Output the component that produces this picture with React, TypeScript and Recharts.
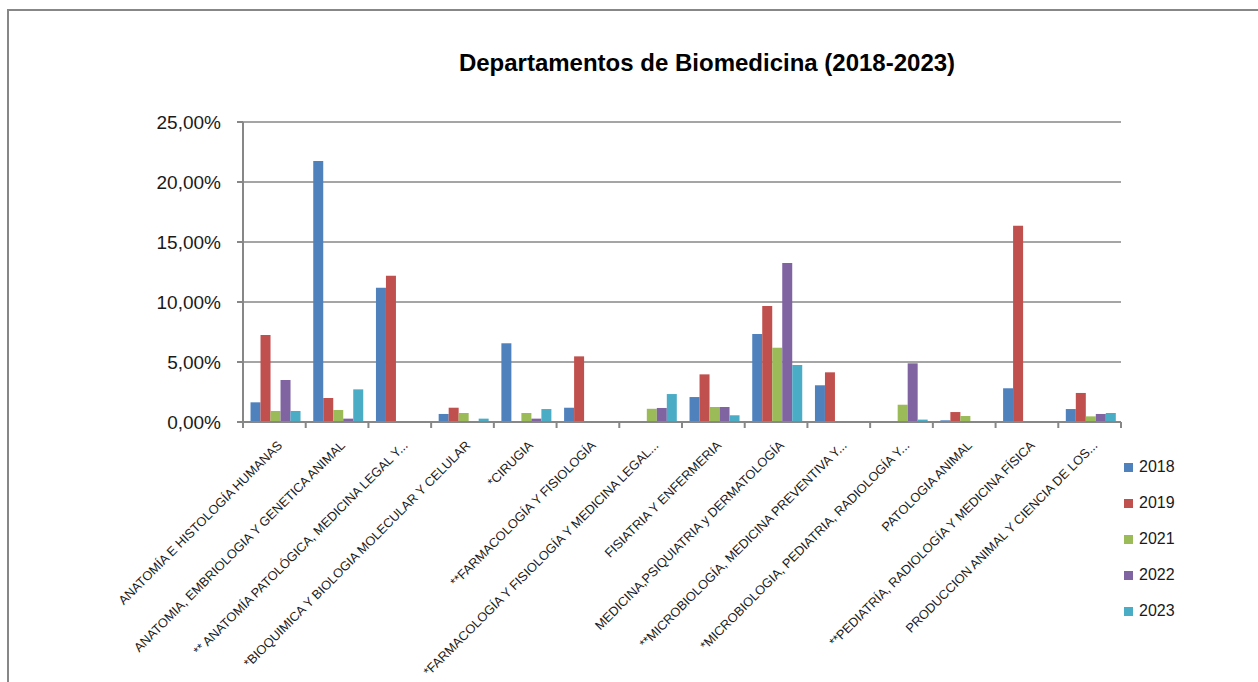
import React from "react";
import { BarChart, Bar, XAxis, YAxis, CartesianGrid, Legend } from "recharts";

const categories = [
  "ANATOMÍA E HISTOLOGÍA HUMANAS",
  "ANATOMIA, EMBRIOLOGIA Y GENETICA ANIMAL",
  "** ANATOMÍA PATOLÓGICA, MEDICINA LEGAL Y...",
  "*BIOQUIMICA Y BIOLOGIA MOLECULAR Y CELULAR",
  "*CIRUGIA",
  "**FARMACOLOGÍA Y FISIOLOGÍA",
  "*FARMACOLOGÍA Y FISIOLOGÍA Y MEDICINA LEGAL...",
  "FISIATRIA Y ENFERMERIA",
  "MEDICINA,PSIQUIATRIA y DERMATOLOGÍA",
  "**MICROBIOLOGÍA, MEDICINA PREVENTIVA Y...",
  "*MICROBIOLOGIA, PEDIATRIA, RADIOLOGÍA Y...",
  "PATOLOGIA ANIMAL",
  "**PEDIATRÍA, RADIOLOGÍA Y MEDICINA FÍSICA",
  "PRODUCCION ANIMAL Y CIENCIA DE LOS...",
];

const s2018 = [1.64, 21.75, 11.19, 0.67, 6.56, 1.19, 0, 2.08, 7.33, 3.06, 0, 0.14, 2.81, 1.08];
const s2019 = [7.25, 2.0, 12.19, 1.19, 0, 5.47, 0, 3.97, 9.67, 4.14, 0, 0.83, 16.36, 2.42];
const s2021 = [0.92, 1.0, 0, 0.75, 0.75, 0, 1.1, 1.25, 6.19, 0, 1.44, 0.5, 0, 0.47];
const s2022 = [3.5, 0.28, 0, 0, 0.28, 0, 1.17, 1.25, 13.25, 0, 4.89, 0, 0, 0.67];
const s2023 = [0.92, 2.72, 0, 0.28, 1.08, 0, 2.33, 0.56, 4.75, 0, 0.2, 0, 0, 0.75];

const seriesNames = ["2018", "2019", "2021", "2022", "2023"];
const seriesValues = [s2018, s2019, s2021, s2022, s2023];
const seriesColors = ["#4F81BD", "#C0504D", "#9BBB59", "#8064A2", "#4BACC6"];
const yTicks = [0, 5, 10, 15, 20, 25];

const data = categories.map((name, i) => {
  const row: any = { name };
  seriesNames.forEach((s, k) => {
    row[s] = seriesValues[k][i];
  });
  return row;
});

const W = 1258;
const H = 682;
const PLOT_LEFT = 243;
const PLOT_RIGHT = 1121;
const PLOT_TOP = 122;
const PLOT_BOTTOM = 422;
const PLOT_W = PLOT_RIGHT - PLOT_LEFT;
const AXIS_COLOR = "#878787";
const FONT = "'Liberation Sans', Arial, sans-serif";

const fmt = (v: number) => v.toFixed(2).replace(".", ",") + "%";

const XTick = (props: any) => {
  const { x, payload, index } = props;
  const bw = PLOT_W / categories.length;
  const left = x - bw / 2;
  const right = x + bw / 2;
  return (
    <g>
      <line x1={left} x2={left} y1={PLOT_BOTTOM} y2={PLOT_BOTTOM + 6} stroke={AXIS_COLOR} strokeWidth={2} />
      {index === categories.length - 1 && (
        <line x1={right} x2={right} y1={PLOT_BOTTOM} y2={PLOT_BOTTOM + 6} stroke={AXIS_COLOR} strokeWidth={2} />
      )}
      <text
        transform={`translate(${x + 5.5},${PLOT_BOTTOM + 21}) rotate(-45)`}
        textAnchor="end"
        dy="0.35em"
        fontSize={12.8}
        fontFamily={FONT}
        fill="#1a1a1a"
      >
        {payload.value}
      </text>
    </g>
  );
};

const LegendContent = (props: any) => {
  const { payload } = props;
  return (
    <div style={{ fontFamily: FONT }}>
      {(payload || []).map((p: any) => (
        <div key={p.value} style={{ height: 36, display: "flex", alignItems: "center" }}>
          <span style={{ width: 9, height: 9, background: p.color, display: "inline-block", marginRight: 6 }} />
          <span style={{ fontSize: 16, color: "#1a1a1a", lineHeight: "16px" }}>{p.value}</span>
        </div>
      ))}
    </div>
  );
};

export default function App() {
  return (
    <div style={{ position: "fixed", left: 0, top: 0, width: W, height: H, overflow: "hidden", background: "#fff" }}>
      <div
        style={{
          position: "absolute",
          left: 7,
          top: 9,
          width: 1300,
          height: 800,
          borderTop: `2px solid ${AXIS_COLOR}`,
          borderLeft: `2px solid ${AXIS_COLOR}`,
        }}
      />
      <div
        style={{
          position: "absolute",
          left: 0,
          width: 1414,
          top: 48,
          textAlign: "center",
          fontFamily: FONT,
          fontWeight: "bold",
          fontSize: 24,
          color: "#000",
          lineHeight: "30px",
          whiteSpace: "nowrap",
        }}
      >
        Departamentos de Biomedicina (2018-2023)
      </div>
      <div style={{ position: "absolute", left: 0, top: 0 }}>
        <BarChart
          width={W}
          height={H}
          data={data}
          margin={{ top: PLOT_TOP, left: 0, right: W - PLOT_RIGHT, bottom: H - PLOT_BOTTOM - 30 }}
          barCategoryGap="12%"
          barGap={0}
        >
          <CartesianGrid vertical={false} horizontal={true} stroke={AXIS_COLOR} strokeWidth={1.5} />
          <XAxis
            dataKey="name"
            height={30}
            interval={0}
            tickLine={false}
            axisLine={{ stroke: AXIS_COLOR, strokeWidth: 2 }}
            tick={<XTick />}
          />
          <YAxis
            width={PLOT_LEFT}
            domain={[0, 25]}
            ticks={yTicks}
            tickFormatter={fmt}
            tickSize={6}
            tickMargin={16}
            tickLine={{ stroke: AXIS_COLOR, strokeWidth: 2 }}
            axisLine={{ stroke: AXIS_COLOR, strokeWidth: 2 }}
            tick={{ fontSize: 19, fontFamily: FONT, fill: "#1a1a1a" }}
            allowDataOverflow
          />
          {seriesNames.map((s, k) => (
            <Bar key={s} dataKey={s} fill={seriesColors[k]} isAnimationActive={false} />
          ))}
          <Legend
            layout="vertical"
            align="center"
            verticalAlign="middle"
            wrapperStyle={{ left: 1124, top: 449, width: 80, height: 180 }}
            content={<LegendContent />}
          />
        </BarChart>
      </div>
    </div>
  );
}
